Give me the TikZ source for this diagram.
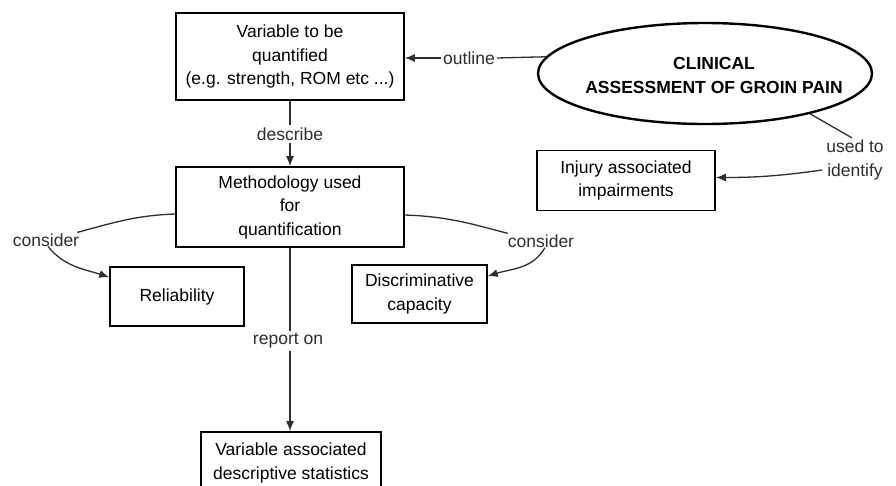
\documentclass[tikz,border=0pt]{standalone}
\usepackage{fontspec}
\setmainfont{Liberation Sans}
\usetikzlibrary{shapes.geometric,arrows.meta}
\begin{document}
\begin{tikzpicture}[x=1pt,y=-1pt,
  every node/.style={font=\fontsize{17.5}{23.5}\selectfont},
  box/.style={draw=black, line width=1.6pt, align=center, inner sep=0pt},
  lbl/.style={text=black!82, inner sep=2pt, align=center},
  conn/.style={draw=black!82, line width=1.3pt},
  arr/.style={conn, -{Latex[length=10pt,width=8pt]}}]
\clip (0,0) rectangle (896,485);
\fill[white] (0,0) rectangle (896,485);

% boxes
\node[box, minimum width=228pt, minimum height=87pt] (b1) at (290,56.5)
  {Variable to be\\quantified\\(e.g. strength, ROM etc ...)};
\node[box, minimum width=228pt, minimum height=80pt] (b2) at (290,207)
  {Methodology used\\for\\quantification};
\node[box, minimum width=134pt, minimum height=59pt] (rel) at (177,296.5)
  {Reliability};
\node[box, minimum width=135pt, minimum height=58pt] (disc) at (419.5,294)
  {Discriminative\\capacity};
\node[box, minimum width=178pt, minimum height=60pt] (inj) at (626,180.5)
  {Injury associated\\impairments};
\node[box, minimum width=180pt, minimum height=62pt] (b3) at (291,463)
  {Variable associated\\descriptive statistics};

% ellipse
\node[draw, ellipse, line width=2.4pt, minimum width=334pt, minimum height=101pt, inner sep=0pt] (ell) at (705,73.5) {};
\node[font=\bfseries\fontsize{17.5}{24}\selectfont, align=center, inner sep=0pt] (elltxt) at (714,75)
  {CLINICAL\\ASSESSMENT OF GROIN PAIN};

% labels
\node[lbl] (outl) at (469,58) {outline};
\node[lbl] (desc) at (290,134) {describe};
\node[lbl] (rep) at (288,341) {report on};
\node[lbl] (lc) at (46,240) {consider};
\node[lbl] (rc) at (541,241) {consider};
\node[lbl] (ui) at (855,160) {used to\\identify};

% connectors
\draw[conn] (ell.174) -- (outl.east);
\draw[arr] (outl.west) -- (outl.west -| b1.east);

\draw[conn] (b1.south) -- (desc.north);
\draw[arr] (desc.south) -- (b2.north);

\draw[conn] (b2.south) -- (b2.south |- rep.north);
\draw[arr] (b2.south |- rep.south) -- (b2.south |- b3.north);

\draw[conn] ([yshift=-7pt]b2.west) to[out=182, in=15] ([xshift=-4pt,yshift=-1pt]lc.north east);
\draw[arr] ([xshift=2pt,yshift=2pt]lc.south) to[out=-50, in=162] ([yshift=-11pt]rel.north west);

\draw[conn] ([yshift=-8pt]b2.east) to[out=-2, in=165] ([xshift=2pt,yshift=-1pt]rc.north west);
\draw[arr] ([xshift=4pt,yshift=2pt]rc.south) to[out=-120, in=18] ([yshift=-12pt]disc.north east);

\draw[conn] (ell.-21) -- ([xshift=-3pt]ui.north);
\draw[arr] ([yshift=-10pt,xshift=-2pt]ui.west) to[out=188, in=0] ([yshift=3pt]inj.east);
\end{tikzpicture}
\end{document}
